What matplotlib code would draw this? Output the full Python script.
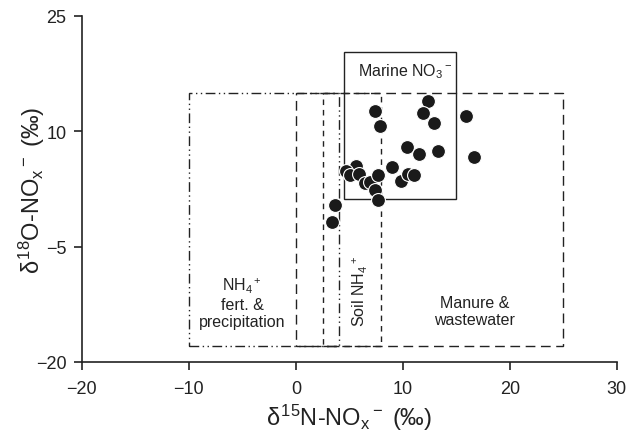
import matplotlib
matplotlib.use("Agg")
import matplotlib.pyplot as plt
from matplotlib.patches import Rectangle

plt.rcParams['font.family'] = ['Liberation Sans', 'DejaVu Sans']
plt.rcParams['mathtext.fontset'] = 'custom'
plt.rcParams['mathtext.rm'] = 'Liberation Sans'
plt.rcParams['mathtext.it'] = 'Liberation Sans'

# Sample data: d15N and d18O of NOx-
d15N = [12.4, 11.9, 12.9, 7.4, 7.85, 15.95, 10.4, 11.5, 13.3, 16.7,
        9.0, 9.8, 10.5, 11.0, 5.6, 4.7, 5.05, 5.9, 6.45, 6.9, 7.65,
        7.4, 7.65, 3.7, 3.4]
d18O = [13.9, 12.4, 11.1, 12.6, 10.7, 12.0, 8.0, 7.0, 7.4, 6.6,
        5.3, 3.5, 4.5, 4.35, 5.5, 4.8, 4.3, 4.5, 3.3, 3.35, 4.3,
        2.35, 1.1, 0.4, -1.8]

# Source boxes: (name, x0, x1, y0, y1)
box_names = ['NH4 fert', 'Manure', 'Soil NH4', 'Marine']
box_x0 = [-10, 0, 2.5, 4.5]
box_x1 = [4, 25, 8, 15]
box_y0 = [-18, -18, -18, 1.2]
box_y1 = [15, 15, 15, 20.3]

x_ticks = [-20, -10, 0, 10, 20, 30]
y_ticks = [-20, -5, 10, 25]

fig = plt.figure(figsize=(6.3, 4.35), dpi=100)
ax = fig.add_axes([0.130, 0.166, 0.849, 0.795])

styles = [
    dict(linestyle=(0, (7, 2.5, 1, 2.5, 1, 2.5)), edgecolor='#222222'),
    dict(linestyle=(0, (7, 4)), edgecolor='#222222'),
    dict(linestyle=(0, (4, 3.5)), edgecolor='#222222'),
    dict(linestyle='-', edgecolor='#222222'),
]
for i in range(len(box_names)):
    ax.add_patch(Rectangle((box_x0[i], box_y0[i]), box_x1[i] - box_x0[i],
                           box_y1[i] - box_y0[i], fill=False, lw=1.0,
                           zorder=2, **styles[i]))

ax.scatter(d15N, d18O, s=100, color='#1a1a1a', edgecolors='white',
           linewidths=0.8, zorder=3)

tfs = 11.5
ax.text(-5, -12.3, 'NH$_4$$^+$\nfert. &\nprecipitation', ha='center', va='center',
        fontsize=tfs, color='#222222', linespacing=1.15)
ax.text(6.0, -10.7, 'Soil NH$_4$$^+$', ha='center', va='center', rotation=90,
        fontsize=tfs, color='#222222')
ax.text(16.7, -13.4, 'Manure &\nwastewater', ha='center', va='center',
        fontsize=tfs, color='#222222', linespacing=1.15)
ax.text(10.2, 17.9, 'Marine NO$_3$$^-$', ha='center', va='center',
        fontsize=tfs, color='#222222')

ax.set_xlim(-20, 30)
ax.set_ylim(-20, 25)
ax.set_xticks(x_ticks)
ax.set_yticks(y_ticks)
ax.set_xticklabels(['\u2212' + str(-t) if t < 0 else str(t) for t in x_ticks])
ax.set_yticklabels(['\u2212' + str(-t) if t < 0 else str(t) for t in y_ticks])
ax.spines['top'].set_visible(False)
ax.spines['right'].set_visible(False)
for s in ['left', 'bottom']:
    ax.spines[s].set_linewidth(1.2)
    ax.spines[s].set_color('#222222')
ax.tick_params(axis='both', direction='out', length=6, width=1.2,
               labelsize=13, colors='#222222')
ax.tick_params(axis='x', pad=7)
ax.tick_params(axis='y', pad=5)

ax.set_xlabel(r'$\delta^{15}$N-NO$_\mathrm{x}$$^-$ (‰)', fontsize=17,
              color='#222222')
ax.set_ylabel(r'$\delta^{18}$O-NO$_\mathrm{x}$$^-$ (‰)', fontsize=17,
              color='#222222')
ax.xaxis.set_label_coords(0.5, -0.115)
ax.yaxis.set_label_coords(-0.066, 0.5)

fig.savefig('out.png', dpi=100)
